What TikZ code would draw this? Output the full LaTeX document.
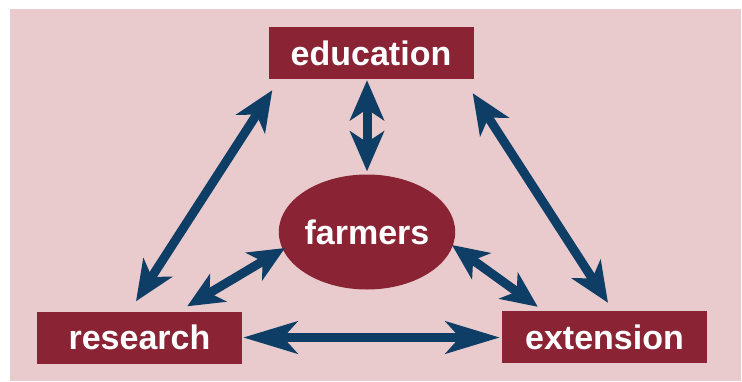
\documentclass[tikz,border=0pt]{standalone}
\usepackage{fontspec}
\setmainfont{Liberation Sans}
\usetikzlibrary{arrows.meta,shapes.geometric}
\definecolor{boxred}{HTML}{8A2435}
\definecolor{bgpink}{HTML}{E9CBCD}
\definecolor{navy}{HTML}{0E3D66}
\tikzset{
  redbox/.style={fill=boxred,text=white,minimum width=205pt,minimum height=52pt,
    inner sep=0pt,font=\fontsize{34}{40}\selectfont\bfseries},
  dbl/.style={navy,line width=9pt,{Stealth[length=40pt,width=34pt,inset=11pt]}-{Stealth[length=40pt,width=34pt,inset=11pt]}},
  dblshort/.style={navy,line width=9pt,{Stealth[length=36pt,width=32pt,inset=10pt]}-{Stealth[length=36pt,width=32pt,inset=10pt]}},
  dbllong/.style={navy,line width=9pt,{Stealth[length=54pt,width=32pt,inset=14pt]}-{Stealth[length=54pt,width=32pt,inset=14pt]}}
}
\begin{document}
\begin{tikzpicture}[x=1pt,y=-1pt]
\useasboundingbox (0,0) rectangle (742,381);
\fill[white] (0,0) rectangle (742,381);
\fill[bgpink] (10,9) rectangle (741,381);
\node[redbox] (edu) at (371,53) {education};
\node[redbox] (res) at (139.5,337.5) {research};
\node[redbox] (ext) at (604.5,337) {extension};
\node[ellipse,fill=boxred,text=white,minimum width=157pt,minimum height=115pt,inner sep=0pt,
  font=\fontsize{34}{40}\selectfont\bfseries] (farm) at (367,232) {farmers};
\draw[dbl] ([yshift=-1pt]edu.south -| farm.north) -- ([yshift=3pt]farm.north);
\draw[dbl] ([shift={(4,11)}]edu.south west) -- ([shift={(-3.5,-10)}]res.north);
\draw[dbl] ([shift={(-1,14)}]edu.south east) -- ([shift={(3.5,-8)}]ext.north);
\draw[dblshort] ([shift={(-55,-5)}]res.north east) -- ([shift={(-82,16)}]farm.center);
\draw[dblshort] ([shift={(85,13)}]farm.center) -- ([shift={(36,-4)}]ext.north west);
\draw[dbllong] ([xshift=1pt]res.east) -- ([xshift=-2pt]res.east -| ext.west);
\end{tikzpicture}
\end{document}
